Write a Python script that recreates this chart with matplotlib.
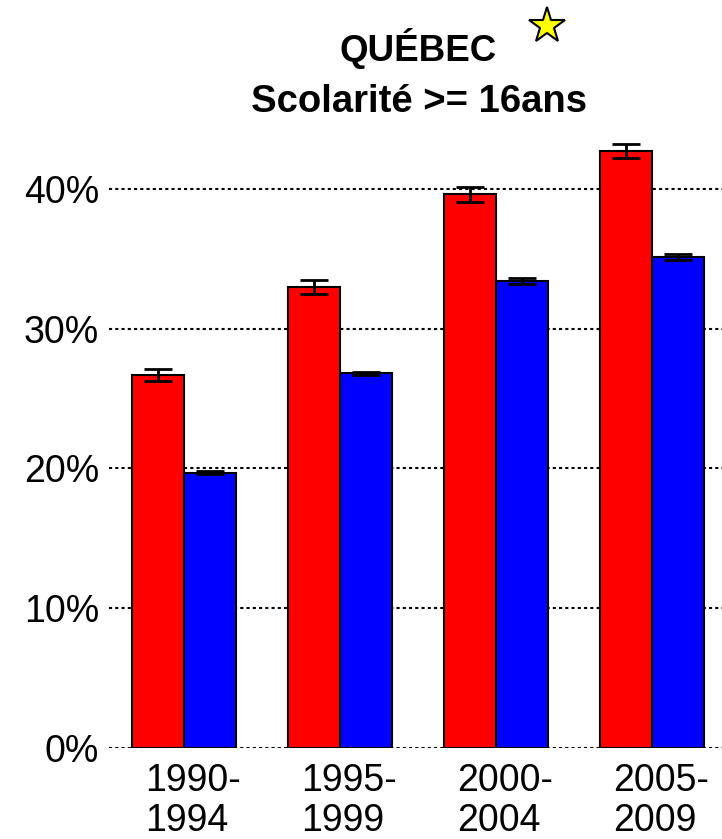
import matplotlib
matplotlib.use("Agg")
import matplotlib.pyplot as plt
import numpy as np

plt.rcParams['font.family'] = ['Liberation Sans', 'DejaVu Sans']

periods = ["1990-\n1994", "1995-\n1999", "2000-\n2004", "2005-\n2009"]
red_vals = [26.7, 33.0, 39.6, 42.7]
red_err = [0.45, 0.5, 0.55, 0.5]
blue_vals = [19.7, 26.8, 33.4, 35.1]
blue_err = [0.12, 0.1, 0.22, 0.22]
yticks = [0, 10, 20, 30, 40]
ytick_labels = ["0%", "10%", "20%", "30%", "40%"]

fig = plt.figure(figsize=(7.22, 8.39), dpi=100)
ax = fig.add_axes([109/722, 91/839, 618/722, (748-119)/839])
ax.set_xlim(0.56, 12.44)
ax.set_ylim(0, 45)

for y in yticks:
    ax.axhline(y, color='black', lw=1.5, linestyle=(0, (1.5, 1.5)), zorder=0)

n = len(periods)
red_x = np.arange(n) * 3 + 1.5
blue_x = red_x + 1.0
ax.bar(red_x, red_vals, width=1.0, color='#ff0000', edgecolor='black', linewidth=1.5, zorder=2)
ax.bar(blue_x, blue_vals, width=1.0, color='#0000ff', edgecolor='black', linewidth=1.5, zorder=2)
ax.errorbar(red_x, red_vals, yerr=red_err, fmt='none', ecolor='black', elinewidth=2, capsize=10, capthick=2, zorder=3)
ax.errorbar(blue_x, blue_vals, yerr=blue_err, fmt='none', ecolor='black', elinewidth=2, capsize=10, capthick=2, zorder=3)

for s in ax.spines.values():
    s.set_visible(False)
ax.set_yticks(yticks)
ax.set_yticklabels(ytick_labels, fontsize=27)
ax.set_xticks(red_x + 0.67)
ax.set_xticklabels(periods, fontsize=27, linespacing=1.12, multialignment='left')
ax.tick_params(axis='both', length=0)
ax.tick_params(axis='y', pad=7)
ax.tick_params(axis='x', pad=11)

fig.text(418/722, 1 - 61/839, "QUÉBEC", ha='center', va='baseline', fontsize=26.5, fontweight='bold')
fig.text(419/722, 1 - 112/839, "Scolarité >= 16ans", ha='center', va='baseline', fontsize=27.5, fontweight='bold')
star_ax = fig.add_axes([0, 0, 1, 1], facecolor='none')
star_ax.set_xlim(0, 722); star_ax.set_ylim(839, 0); star_ax.axis('off')
star_ax.plot([547], [26], marker='*', markersize=27, markerfacecolor='#ffff00', markeredgecolor='black', markeredgewidth=1.5)

fig.savefig("out.png", dpi=100)
